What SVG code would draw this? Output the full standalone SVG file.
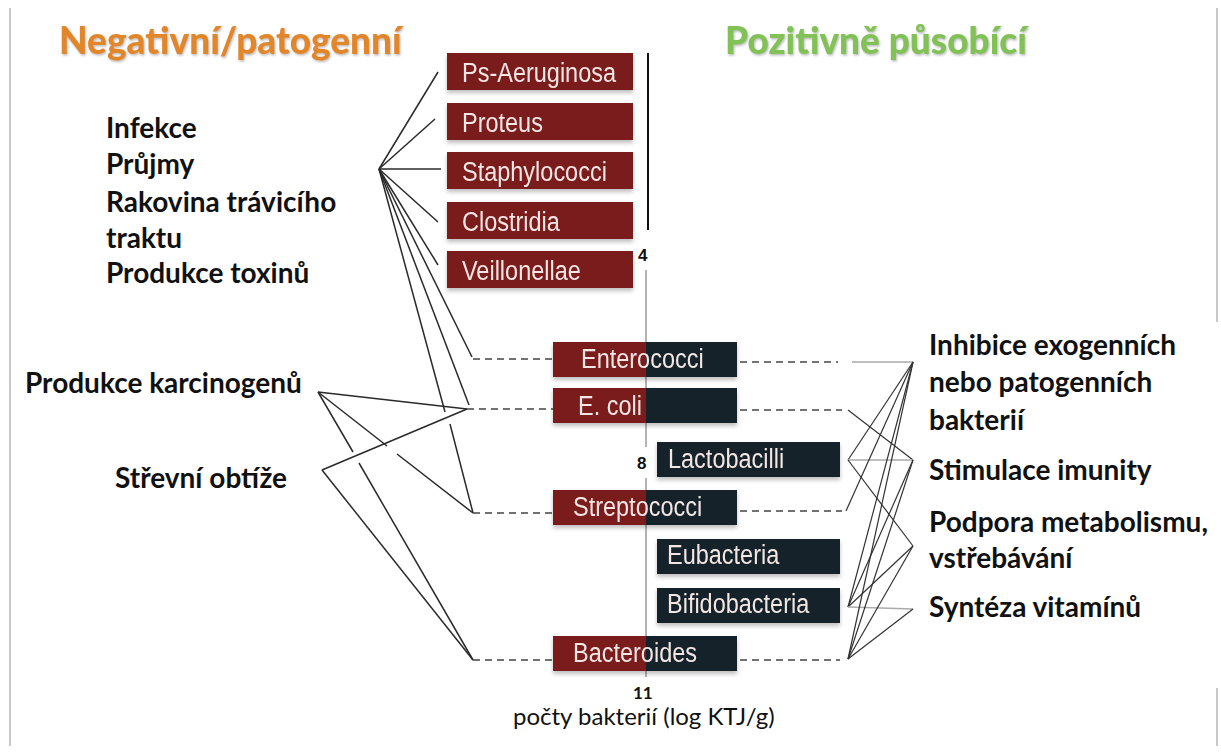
<svg xmlns="http://www.w3.org/2000/svg" width="1221" height="753" viewBox="0 0 1221 753">
<style>
.box-r{fill:#7a1d1f}
.box-d{fill:#13232b}
.bt{font-family:"Liberation Sans",Arial,sans-serif;font-size:27px;fill:#f3e6e3}
.lbl{font-family:Lato,"Open Sans",sans-serif;font-weight:bold;font-size:28px;fill:#111}
.title{font-family:Lato,"Open Sans",sans-serif;font-weight:900;font-size:37px}
.num{font-family:"Liberation Sans",Arial,sans-serif;font-weight:bold;font-size:17px;fill:#111}
.ln{stroke:#2a2a2a;stroke-width:1.5;fill:none}
.lnr{stroke:#333;stroke-width:1.2;fill:none}
.lgt{stroke:#aaa;stroke-width:1.5;fill:none}
.dash{stroke:#444;stroke-width:1.5;stroke-dasharray:7 5;fill:none}
</style>
<defs>
<filter id="sh" x="-10%" y="-20%" width="120%" height="160%">
<feDropShadow dx="0" dy="3" stdDeviation="2" flood-color="#000" flood-opacity="0.25"/>
</filter>
<filter id="tsh" x="-5%" y="-20%" width="110%" height="150%">
<feDropShadow dx="1" dy="1.5" stdDeviation="1" flood-color="#666" flood-opacity="0.45"/>
</filter>
</defs>
<rect width="1221" height="753" fill="#fff"/>
<g id="frame" stroke="#c8c8c8" stroke-width="2">
<line x1="10" y1="8" x2="10" y2="746"/>
<line x1="1217" y1="8" x2="1217" y2="322"/>
<line x1="1217" y1="688" x2="1217" y2="746"/>
</g>
<g id="titles" filter="url(#tsh)">
<text class="title" x="59" y="54" fill="#e2862b">Negativní/patogenní</text>
<text class="title" x="725" y="54" fill="#82c157">Pozitivně působící</text>
</g>
<g id="axis">
<line x1="648" y1="53" x2="648" y2="230" stroke="#111" stroke-width="2"/>
<line x1="646" y1="270" x2="646" y2="447" stroke="#9a9a9a" stroke-width="1.5"/>
<line x1="646" y1="478" x2="646" y2="677" stroke="#9a9a9a" stroke-width="1.5"/>
<text class="num" x="638" y="261">4</text>
<text class="num" x="637" y="469">8</text>
<text x="633" y="699" font-family="Lato,sans-serif" font-weight="bold" font-size="17" fill="#111">11</text>
<text x="513" y="725" font-family="Lato,sans-serif" font-size="24" fill="#111">počty bakterií (log KTJ/g)</text>
</g>
<g id="connectors">
<line class="ln" x1="379" y1="169" x2="438" y2="72"/>
<line class="ln" x1="379" y1="169" x2="435" y2="119"/>
<line class="ln" x1="379" y1="169" x2="441" y2="169"/>
<line class="ln" x1="379" y1="169" x2="438" y2="222"/>
<line class="ln" x1="379" y1="169" x2="438" y2="265"/>
<line class="ln" x1="379" y1="169" x2="472" y2="357"/>
<line class="ln" x1="379" y1="169" x2="469" y2="405"/>
<line class="ln" x1="379" y1="169" x2="445" y2="412"/>
<line class="ln" x1="450" y1="424" x2="473" y2="513"/>
<line class="ln" x1="318" y1="392" x2="467" y2="409"/>
<line class="ln" x1="318" y1="392" x2="387" y2="446"/>
<line class="ln" x1="397" y1="454" x2="473" y2="513"/>
<line class="ln" x1="318" y1="392" x2="353" y2="452"/>
<line class="ln" x1="359" y1="463" x2="473" y2="660"/>
<line class="ln" x1="322" y1="470" x2="467" y2="409"/>
<line class="ln" x1="322" y1="470" x2="473" y2="660"/>
<line class="dash" x1="473" y1="359" x2="553" y2="359"/>
<line class="dash" x1="467" y1="409" x2="553" y2="409"/>
<line class="dash" x1="473" y1="513" x2="553" y2="513"/>
<line class="dash" x1="473" y1="660" x2="553" y2="660"/>
<line class="dash" x1="740" y1="362" x2="838" y2="362"/>
<line class="dash" x1="740" y1="410" x2="842" y2="410"/>
<line class="dash" x1="740" y1="511" x2="842" y2="511"/>
<line class="dash" x1="740" y1="660" x2="840" y2="660"/>
<line class="lgt" x1="852" y1="362" x2="913" y2="362"/>
<line class="lnr" x1="848" y1="410" x2="913" y2="460"/>
<line class="lnr" x1="848" y1="460" x2="913" y2="362"/>
<line class="lgt" x1="848" y1="460" x2="913" y2="460"/>
<line class="lnr" x1="848" y1="460" x2="913" y2="546"/>
<line class="lnr" x1="846" y1="511" x2="913" y2="362"/>
<line class="lnr" x1="848" y1="607" x2="913" y2="362"/>
<line class="lnr" x1="848" y1="607" x2="913" y2="460"/>
<line class="lnr" x1="848" y1="607" x2="913" y2="546"/>
<line class="lgt" x1="848" y1="607" x2="913" y2="609"/>
<line class="lnr" x1="848" y1="659" x2="913" y2="362"/>
<line class="lnr" x1="848" y1="659" x2="913" y2="460"/>
<line class="lnr" x1="848" y1="659" x2="913" y2="546"/>
<line class="lnr" x1="848" y1="659" x2="913" y2="609"/>
</g>
<g id="n-ps" filter="url(#sh)"><rect class="box-r" x="447" y="53" width="186" height="37"/><text class="bt" transform="translate(462,82) scale(0.87,1)">Ps-Aeruginosa</text></g>
<g id="n-proteus" filter="url(#sh)"><rect class="box-r" x="447" y="103" width="186" height="37"/><text class="bt" transform="translate(462,132) scale(0.87,1)">Proteus</text></g>
<g id="n-staph" filter="url(#sh)"><rect class="box-r" x="447" y="152" width="186" height="37"/><text class="bt" transform="translate(462,181) scale(0.87,1)">Staphylococci</text></g>
<g id="n-clostridia" filter="url(#sh)"><rect class="box-r" x="447" y="202" width="186" height="37"/><text class="bt" transform="translate(462,231) scale(0.87,1)">Clostridia</text></g>
<g id="n-veillonellae" filter="url(#sh)"><rect class="box-r" x="447" y="251" width="186" height="37"/><text class="bt" transform="translate(462,280) scale(0.87,1)">Veillonellae</text></g>
<g id="n-enterococci" filter="url(#sh)"><rect class="box-r" x="553" y="342" width="93" height="35"/><rect class="box-d" x="646" y="342" width="91" height="35"/><text class="bt" transform="translate(581,368) scale(0.87,1)">Enterococci</text></g>
<g id="n-ecoli" filter="url(#sh)"><rect class="box-r" x="553" y="388" width="93" height="35"/><rect class="box-d" x="646" y="388" width="91" height="35"/><text class="bt" transform="translate(578,415) scale(0.87,1)">E. coli</text></g>
<g id="n-lacto" filter="url(#sh)"><rect class="box-d" x="657" y="442" width="183" height="35"/><text class="bt" transform="translate(668,468) scale(0.87,1)">Lactobacilli</text></g>
<g id="n-strep" filter="url(#sh)"><rect class="box-r" x="553" y="490" width="93" height="35"/><rect class="box-d" x="646" y="490" width="91" height="35"/><text class="bt" transform="translate(573,516) scale(0.87,1)">Streptococci</text></g>
<g id="n-eubacteria" filter="url(#sh)"><rect class="box-d" x="657" y="539" width="183" height="35"/><text class="bt" transform="translate(667,564) scale(0.87,1)">Eubacteria</text></g>
<g id="n-bifido" filter="url(#sh)"><rect class="box-d" x="657" y="588" width="183" height="35"/><text class="bt" transform="translate(667,613) scale(0.87,1)">Bifidobacteria</text></g>
<g id="n-bacteroides" filter="url(#sh)"><rect class="box-r" x="553" y="636" width="93" height="35"/><rect class="box-d" x="646" y="636" width="91" height="35"/><text class="bt" transform="translate(573,662) scale(0.87,1)">Bacteroides</text></g>
<g id="n-neg-effects">
<text class="lbl" x="106" y="138">Infekce</text>
<text class="lbl" x="106" y="174">Průjmy</text>
<text class="lbl" x="106" y="212">Rakovina trávicího</text>
<text class="lbl" x="106" y="248">traktu</text>
<text class="lbl" x="106" y="283">Produkce toxinů</text>
</g>
<g id="n-karcinogeny"><text class="lbl" x="25" y="393">Produkce karcinogenů</text></g>
<g id="n-strevni"><text class="lbl" x="115" y="488">Střevní obtíže</text></g>
<g id="n-inhibice">
<text class="lbl" x="929" y="355">Inhibice exogenních</text>
<text class="lbl" x="929" y="392">nebo patogenních</text>
<text class="lbl" x="929" y="430">bakterií</text>
</g>
<g id="n-stimulace"><text class="lbl" x="929" y="480">Stimulace imunity</text></g>
<g id="n-podpora">
<text class="lbl" x="929" y="532">Podpora metabolismu,</text>
<text class="lbl" x="929" y="568">vstřebávání</text>
</g>
<g id="n-synteza"><text class="lbl" x="929" y="617">Syntéza vitamínů</text></g>
</svg>
